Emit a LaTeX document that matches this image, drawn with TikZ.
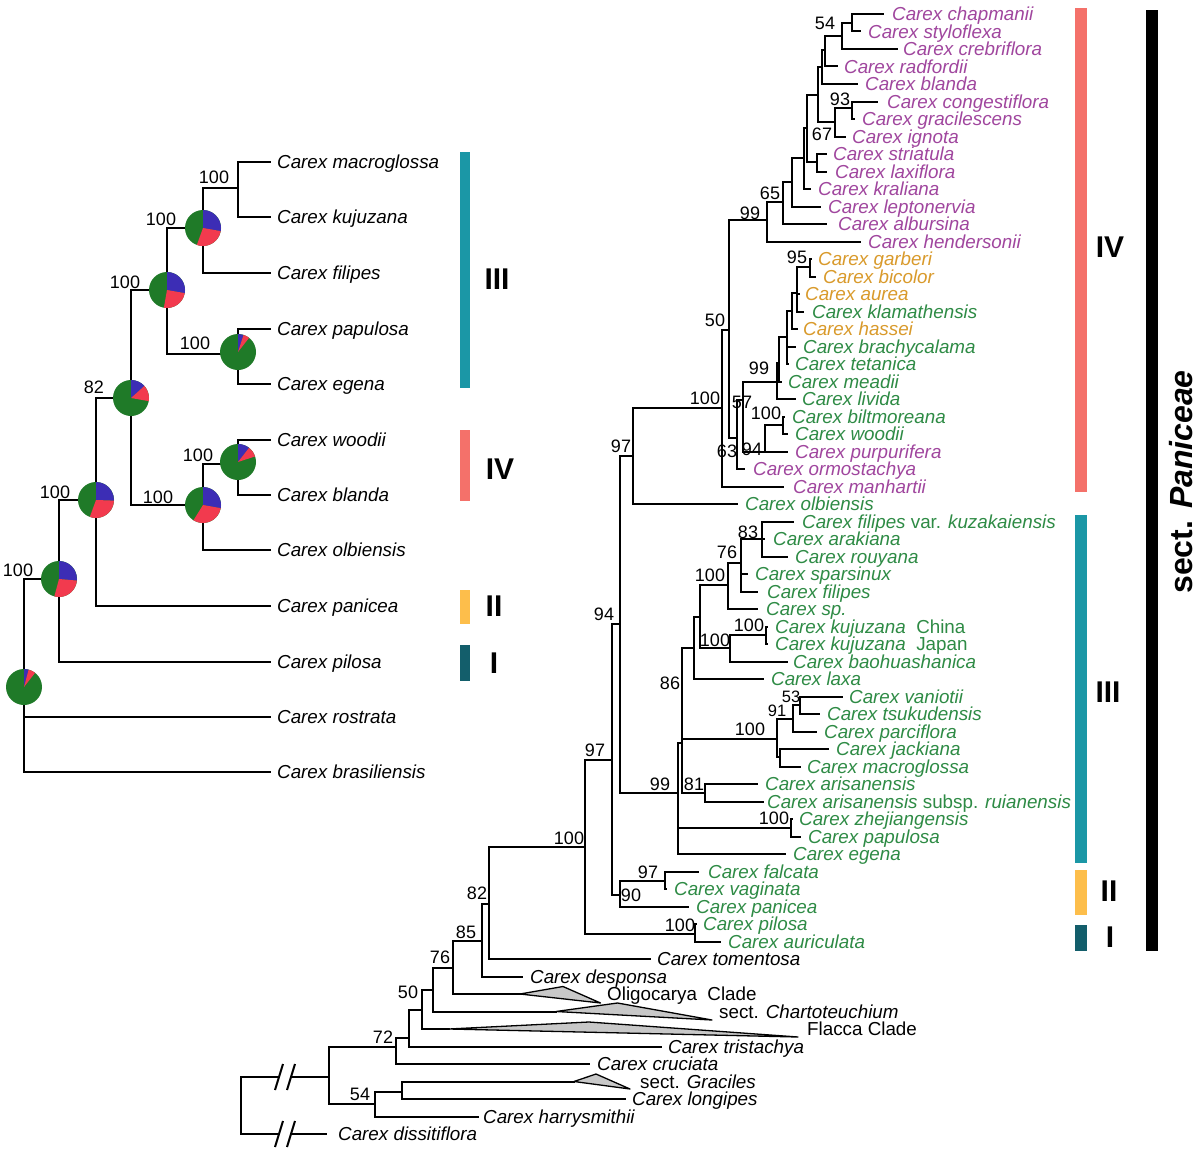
\documentclass[tikz,border=0pt]{standalone}
\usepackage{fontspec}
\setmainfont{Liberation Sans}
\definecolor{pur}{HTML}{A0469E}
\definecolor{org}{HTML}{D99A2B}
\definecolor{grn}{HTML}{2E8B45}
\definecolor{pg}{HTML}{1F7A28}
\definecolor{pb}{HTML}{3C2DB5}
\definecolor{pr}{HTML}{F23A4E}
\definecolor{cIV}{HTML}{F4716A}
\definecolor{cIII}{HTML}{1B97A6}
\definecolor{cII}{HTML}{FDBE4B}
\definecolor{cI}{HTML}{135E6B}
\definecolor{tri}{HTML}{C8C8C8}
\newcommand\nd[5]{\draw[br] (#4,#5) -- (#1,#5) (#1,#2) -- (#1,#3);}
\newcommand\tp[3]{\draw[br] (#1,#3) -- (#2,#3);}
\newcommand\mypie[4]{%
 \fill[pg] (#1,#2) circle[radius=18];
 \fill[pb] (#1,#2) -- ++(-90:18) arc[start angle=-90, end angle={#3-90}, radius=18] -- cycle;
 \fill[pr] (#1,#2) -- ++({#3-90}:18) arc[start angle={#3-90}, end angle={#4-90}, radius=18] -- cycle;}
\begin{document}
\begin{tikzpicture}[x=1pt,y=-1pt,
 br/.style={line width=2pt,line cap=rect},
 tx/.style={anchor=base west,inner sep=0pt,yshift=-6.8pt,font=\fontsize{18.8}{20}\selectfont\itshape},
 upt/.style={anchor=base west,inner sep=0pt,yshift=-6.8pt,font=\fontsize{18.8}{20}\selectfont\upshape},
 bs/.style={inner sep=0pt,font=\fontsize{18}{20}\selectfont},
 bss/.style={inner sep=0pt,font=\fontsize{16.5}{18}\selectfont},
 rn/.style={inner sep=0pt,font=\fontsize{30}{32}\selectfont\bfseries},
 clade/.style={draw=black,line width=1.3pt,fill=tri,line join=round}]
\useasboundingbox (0,0) rectangle (1200,1156);
\fill[white] (0,0) rectangle (1200,1156);

%% ================= LEFT TREE =================
\tp{238}{270}{162}\tp{238}{270}{217}\tp{203}{270}{273}\tp{238}{270}{329}
\tp{238}{270}{384}\tp{238}{270}{440}\tp{238}{270}{495}\tp{203}{270}{550}
\tp{96}{270}{606}\tp{59}{270}{662}\tp{24}{270}{717}\tp{24}{270}{772}
\nd{238}{162}{217}{203}{188}
\nd{203}{188}{273}{167}{228}
\nd{238}{329}{384}{167}{354}
\nd{167}{228}{354}{131}{290}
\nd{238}{440}{495}{203}{464}
\nd{203}{464}{550}{131}{505}
\nd{131}{290}{505}{96}{398}
\nd{96}{398}{606}{59}{500}
\nd{59}{500}{662}{24}{579}
\draw[br] (24,579) -- (24,772);
\mypie{203}{228}{100}{200}
\mypie{167}{290}{100}{190}
\mypie{238}{352}{18}{38}
\mypie{131}{398}{48}{100}
\mypie{238}{462}{38}{72}
\mypie{96}{500}{92}{200}
\mypie{203}{505}{100}{212}
\mypie{59}{579}{95}{195}
\mypie{24}{687}{15}{38}
\node[bs] (lb1) at (214,177) {100};
\node[bs] (lb2) at (161,219) {100};
\node[bs] (lb3) at (125,282) {100};
\node[bs] (lb4) at (195,343) {100};
\node[bs] (lb5) at (94,387) {82};
\node[bs] (lb6) at (198,455) {100};
\node[bs] (lb7) at (158,497) {100};
\node[bs] (lb8) at (55,492) {100};
\node[bs] (lb9) at (18,570) {100};
\node[tx] (L1) at (277,162) {Carex macroglossa};
\node[tx] (L2) at (277,217) {Carex kujuzana};
\node[tx] (L3) at (277,273) {Carex filipes};
\node[tx] (L4) at (277,329) {Carex papulosa};
\node[tx] (L5) at (277,384) {Carex egena};
\node[tx] (L6) at (277,440) {Carex woodii};
\node[tx] (L7) at (277,495) {Carex blanda};
\node[tx] (L8) at (277,550) {Carex olbiensis};
\node[tx] (L9) at (277,606) {Carex panicea};
\node[tx] (L10) at (277,662) {Carex pilosa};
\node[tx] (L11) at (277,717) {Carex rostrata};
\node[tx] (L12) at (277,772) {Carex brasiliensis};
\fill[cIII] (460,152) rectangle (470,388);
\fill[cIV] (460,430) rectangle (470,501);
\fill[cII] (460,590) rectangle (470,624);
\fill[cI] (460,645) rectangle (470,681);
\node[rn] (lIII) at (497,279) {III};
\node[rn] (lIV) at (500,469) {IV};
\node[rn] (lII) at (494,606) {II};
\node[rn] (lI) at (494,663) {I};

%% ================= RIGHT TREE: tips =================
\tp{852}{883}{14}\tp{852}{860}{31.5}\tp{842}{897}{49}\tp{825}{837}{66.5}
\tp{822}{857}{84}\tp{852}{877}{101.5}\tp{852}{854}{119}\tp{835}{845}{136.5}
\tp{817}{826}{154}\tp{817}{826}{171.5}\tp{804}{810}{189}\tp{792}{820}{206.5}
\tp{783}{826}{224}\tp{767}{860}{241.5}\tp{810}{811}{259}\tp{810}{815}{276.5}
\tp{797}{799}{294}\tp{797}{803}{311.5}\tp{792}{797}{329}\tp{787}{795}{346.5}
\tp{787}{788}{364}\tp{779}{781}{381.5}\tp{777}{795}{399}\tp{783}{784}{416.5}
\tp{783}{787}{434}\tp{765}{787}{451.5}\tp{737}{744}{469}\tp{722}{783}{486.5}
\tp{633}{737}{504}\tp{762}{793}{521.5}\tp{762}{764}{539}\tp{762}{787}{556.5}
\tp{741}{747}{574}\tp{741}{757}{591.5}\tp{728}{757}{609}\tp{766}{767}{626.5}
\tp{766}{767}{644}\tp{730}{787}{661.5}\tp{694}{763}{679}\tp{800}{842}{696.5}
\tp{800}{819}{714}\tp{793}{816}{731.5}\tp{780}{828}{749}\tp{780}{800}{766.5}
\tp{705}{757}{784}\tp{705}{763}{801.5}\tp{791}{792}{819}\tp{791}{800}{836.5}
\tp{678}{785}{854}\tp{665}{698}{871.5}\tp{665}{666}{889}\tp{620}{688}{906.5}
\tp{695}{696}{924}\tp{695}{720}{941.5}\tp{489}{650}{959}\tp{482}{522}{976.5}
\tp{453}{520}{994}\tp{433}{556}{1011.5}\tp{422}{449}{1029}\tp{409}{661}{1046.5}
\tp{396}{589}{1064}\tp{402}{574}{1081.5}\tp{402}{625}{1099}\tp{375}{478}{1116.5}

%% ================= RIGHT TREE: internal nodes =================
\nd{852}{14}{31.5}{842}{23}
\nd{842}{23}{49}{825}{36}
\nd{825}{36}{66.5}{822}{50}
\nd{822}{50}{84}{818}{67}
\nd{852}{101.5}{119}{835}{108}
\nd{835}{108}{136.5}{818}{122}
\nd{818}{67}{122}{807}{95}
\nd{817}{154}{171.5}{807}{162}
\nd{807}{95}{162}{804}{128}
\nd{804}{128}{189}{792}{158}
\nd{792}{158}{206.5}{783}{182}
\nd{783}{182}{224}{767}{202}
\nd{767}{202}{241.5}{729}{220}
\nd{810}{259}{276.5}{797}{267}
\nd{797}{267}{311.5}{792}{293}
\nd{792}{293}{329}{787}{311}
\nd{787}{311}{364}{779}{337}
\nd{779}{337}{381.5}{777}{363}
\nd{777}{363}{399}{743}{382}
\nd{783}{416.5}{434}{765}{425}
\nd{765}{425}{451.5}{743}{451.5}
\nd{743}{382}{451.5}{737}{400}
\nd{737}{400}{469}{729}{438}
\nd{729}{220}{438}{722}{330}
\nd{722}{330}{486.5}{633}{408}
\nd{633}{408}{504}{620}{456}
\nd{762}{521.5}{556.5}{741}{539}
\nd{741}{539}{591.5}{728}{563}
\nd{728}{563}{609}{700}{585}
\nd{766}{626.5}{644}{730}{635}
\nd{730}{635}{661.5}{700}{648}
\nd{700}{585}{648}{694}{617}
\nd{694}{617}{679}{682}{648}
\nd{800}{696.5}{714}{793}{705}
\nd{793}{705}{731.5}{777}{719}
\nd{780}{749}{766.5}{777}{757}
\nd{777}{719}{757}{682}{739}
\nd{705}{784}{801.5}{682}{793}
\nd{682}{648}{793}{678}{743}
\nd{791}{819}{836.5}{678}{828}
\nd{678}{743}{854}{620}{793}
\nd{620}{456}{793}{612}{624}
\nd{665}{871.5}{889}{620}{881}
\nd{620}{881}{906.5}{612}{895}
\nd{612}{624}{895}{585}{760}
\nd{695}{924}{941.5}{585}{934}
\nd{585}{760}{934}{489}{847}
\nd{489}{847}{959}{482}{904}
\nd{482}{904}{976.5}{453}{941}
\nd{453}{941}{994}{433}{968}
\nd{433}{968}{1011.5}{422}{990}
\nd{422}{990}{1029}{409}{1010}
\nd{409}{1010}{1046.5}{396}{1038}
\nd{396}{1038}{1064}{329}{1047}
\nd{402}{1081.5}{1099}{375}{1092}
\nd{375}{1092}{1116.5}{329}{1104}
\draw[br] (329,1047) -- (329,1104);
\draw[br] (241,1077) -- (241,1134);
\draw[br] (241,1077) -- (279,1077) (291,1077) -- (329,1077);
\draw[br] (241,1134) -- (279,1134) (291,1134) -- (326,1134);
\draw[br,line cap=butt] (275,1090) -- (283,1064) (287,1090) -- (295,1064);
\draw[br,line cap=butt] (275,1147) -- (283,1121) (287,1147) -- (295,1121);
% collapsed clades
\draw[clade] (520,994) -- (563,986.5) -- (600.5,1003) -- cycle;
\draw[clade] (556,1011.5) -- (617.5,1003) -- (712,1020) -- cycle;
\draw[clade] (449,1029) -- (589,1022) -- (798,1037) -- cycle;
\draw[clade] (574,1081.5) -- (596,1074) -- (630,1089) -- cycle;

%% ================= RIGHT TREE: support values =================
\node[bs] at (825,23) {54};
\node[bs] at (840,99) {93};
\node[bs] at (822,134) {67};
\node[bs] at (770,193) {65};
\node[bs] at (750,213) {99};
\node[bs] at (797,257) {95};
\node[bs] at (759,368) {99};
\node[bs] at (715,320) {50};
\node[bs] at (705,398) {100};
\node[bs] at (742,402) {57};
\node[bs] at (766,413) {100};
\node[bs] at (727,451) {63};
\node[bs] at (752,449) {94};
\node[bs] at (621,446) {97};
\node[bs] at (604,614) {94};
\node[bs] at (595,750) {97};
\node[bs] at (569,838) {100};
\node[bs] at (477,893) {82};
\node[bs] at (466,932) {85};
\node[bs] at (440,957) {76};
\node[bs] at (408,992) {50};
\node[bs] at (383,1037) {72};
\node[bs] at (360,1094) {54};
\node[bs] at (748,532) {83};
\node[bs] at (727,552) {76};
\node[bs] at (710,575) {100};
\node[bs] at (749,625) {100};
\node[bs] at (715,640) {100};
\node[bs] at (670,683) {86};
\node[bss] at (791,696.5) {53};
\node[bss] at (777,711) {91};
\node[bs] at (750,729) {100};
\node[bs] at (660,784) {99};
\node[bs] at (694,784) {81};
\node[bs] at (774,818) {100};
\node[bs] at (648,872) {97};
\node[bs] at (631,895) {90};
\node[bs] at (680,925) {100};

%% ================= RIGHT TREE: taxa =================
\node[tx,text=pur] (t0) at (892,14) {Carex chapmanii};
\node[tx,text=pur] (t1) at (868,31.5) {Carex styloflexa};
\node[tx,text=pur] (t2) at (903,49) {Carex crebriflora};
\node[tx,text=pur] (t3) at (844,66.5) {Carex radfordii};
\node[tx,text=pur] (t4) at (865,84) {Carex blanda};
\node[tx,text=pur] (t5) at (887,101.5) {Carex congestiflora};
\node[tx,text=pur] (t6) at (862,119) {Carex gracilescens};
\node[tx,text=pur] (t7) at (852,136.5) {Carex ignota};
\node[tx,text=pur] (t8) at (833,154) {Carex striatula};
\node[tx,text=pur] (t9) at (835,171.5) {Carex laxiflora};
\node[tx,text=pur] (t10) at (818,189) {Carex kraliana};
\node[tx,text=pur] (t11) at (828,206.5) {Carex leptonervia};
\node[tx,text=pur] (t12) at (838,224) {Carex albursina};
\node[tx,text=pur] (t13) at (868,241.5) {Carex hendersonii};
\node[tx,text=org] (t14) at (818,259) {Carex garberi};
\node[tx,text=org] (t15) at (823,276.5) {Carex bicolor};
\node[tx,text=org] (t16) at (805,294) {Carex aurea};
\node[tx,text=grn] (t17) at (812,311.5) {Carex klamathensis};
\node[tx,text=org] (t18) at (803,329) {Carex hassei};
\node[tx,text=grn] (t19) at (803,346.5) {Carex brachycalama};
\node[tx,text=grn] (t20) at (795,364) {Carex tetanica};
\node[tx,text=grn] (t21) at (788,381.5) {Carex meadii};
\node[tx,text=grn] (t22) at (802,399) {Carex livida};
\node[tx,text=grn] (t23) at (792,416.5) {Carex biltmoreana};
\node[tx,text=grn] (t24) at (795,434) {Carex woodii};
\node[tx,text=pur] (t25) at (795,451.5) {Carex purpurifera};
\node[tx,text=pur] (t26) at (753,469) {Carex ormostachya};
\node[tx,text=pur] (t27) at (793,486.5) {Carex manhartii};
\node[tx,text=grn] (t28) at (745,504) {Carex olbiensis};
\node[tx,text=grn] (t29) at (802,521.5) {Carex filipes \upshape var. \itshape kuzakaiensis};
\node[tx,text=grn] (t30) at (773,539) {Carex arakiana};
\node[tx,text=grn] (t31) at (795,556.5) {Carex rouyana};
\node[tx,text=grn] (t32) at (755,574) {Carex sparsinux};
\node[tx,text=grn] (t33) at (767,591.5) {Carex filipes};
\node[tx,text=grn] (t34) at (766,609) {Carex sp.};
\node[tx,text=grn] (t35) at (775,626.5) {Carex kujuzana\ \ \upshape China};
\node[tx,text=grn] (t36) at (775,644) {Carex kujuzana\ \ \upshape Japan};
\node[tx,text=grn] (t37) at (793,661.5) {Carex baohuashanica};
\node[tx,text=grn] (t38) at (771,679) {Carex laxa};
\node[tx,text=grn] (t39) at (849,696.5) {Carex vaniotii};
\node[tx,text=grn] (t40) at (827,714) {Carex tsukudensis};
\node[tx,text=grn] (t41) at (824,731.5) {Carex parciflora};
\node[tx,text=grn] (t42) at (836,749) {Carex jackiana};
\node[tx,text=grn] (t43) at (807,766.5) {Carex macroglossa};
\node[tx,text=grn] (t44) at (765,784) {Carex arisanensis};
\node[tx,text=grn] (t45) at (767,801.5) {Carex arisanensis \upshape subsp. \itshape ruianensis};
\node[tx,text=grn] (t46) at (799,819) {Carex zhejiangensis};
\node[tx,text=grn] (t47) at (808,836.5) {Carex papulosa};
\node[tx,text=grn] (t48) at (793,854) {Carex egena};
\node[tx,text=grn] (t49) at (708,871.5) {Carex falcata};
\node[tx,text=grn] (t50) at (674,889) {Carex vaginata};
\node[tx,text=grn] (t51) at (696,906.5) {Carex panicea};
\node[tx,text=grn] (t52) at (703,924) {Carex pilosa};
\node[tx,text=grn] (t53) at (728,941.5) {Carex auriculata};
\node[tx] (t54) at (657,959) {Carex tomentosa};
\node[tx] (t55) at (530,976.5) {Carex desponsa};
\node[upt] (t56) at (607,994) {Oligocarya\ \ Clade};
\node[upt] (t57) at (719,1011.5) {sect. \itshape Chartoteuchium};
\node[upt] (t58) at (807,1029) {Flacca Clade};
\node[tx] (t59) at (668,1046.5) {Carex tristachya};
\node[tx] (t60) at (597,1064) {Carex cruciata};
\node[upt] (t61) at (640,1081.5) {sect. \itshape Graciles};
\node[tx] (t62) at (632,1099) {Carex longipes};
\node[tx] (t63) at (483,1116.5) {Carex harrysmithii};
\node[tx] (t64) at (338,1134) {Carex dissitiflora};

%% ================= RIGHT BARS =================
\fill[cIV] (1075,8) rectangle (1087,492);
\fill[cIII] (1075,515) rectangle (1087,863);
\fill[cII] (1075,870) rectangle (1087,915);
\fill[cI] (1075,925) rectangle (1087,951);
\fill[black] (1146,10) rectangle (1158,951);
\node[rn] (rIV) at (1110,247) {IV};
\node[rn] (rIII) at (1108,692) {III};
\node[rn] (rII) at (1109,891) {II};
\node[rn] (rI) at (1110,937) {I};
\node[rotate=90,inner sep=0pt,font=\fontsize{32}{34}\selectfont\bfseries] (sect) at (1181,482) {sect. \itshape Paniceae};
\end{tikzpicture}
\end{document}
